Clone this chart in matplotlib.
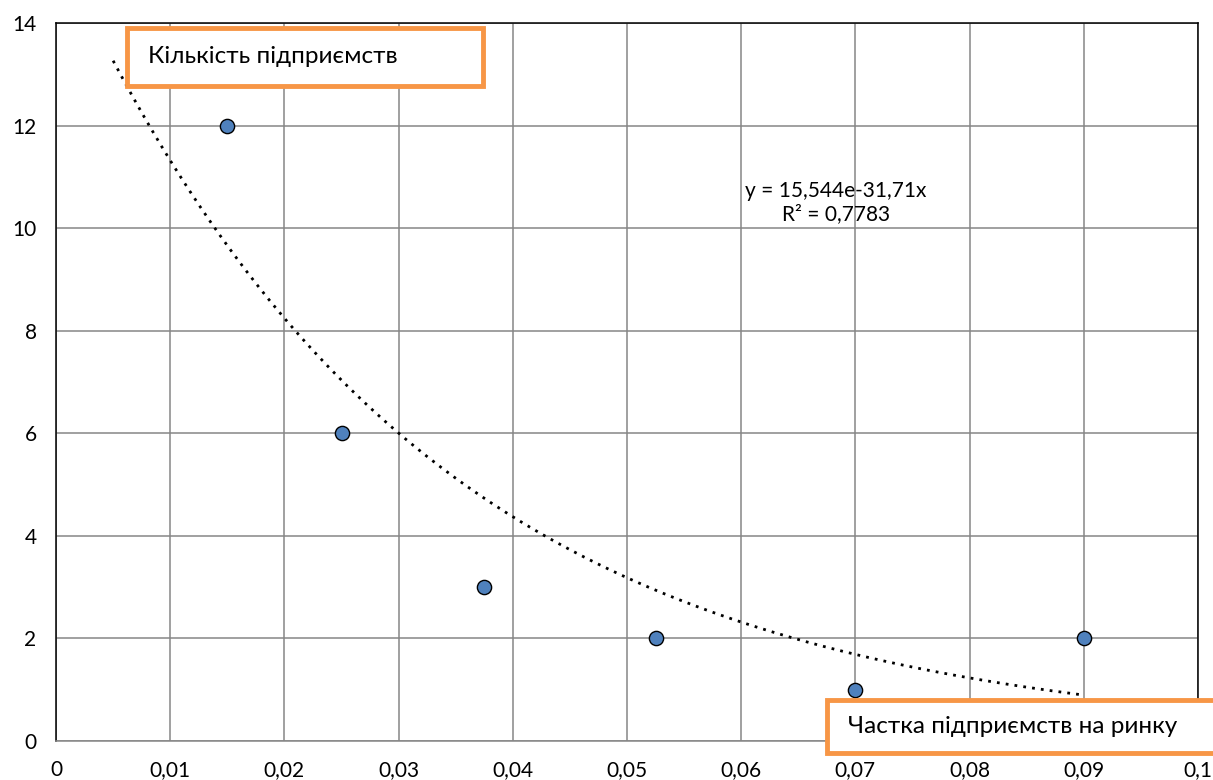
import matplotlib
matplotlib.use("Agg")
import matplotlib.pyplot as plt
from matplotlib.patches import Rectangle
from matplotlib.ticker import FuncFormatter
import numpy as np

plt.rcParams['font.family'] = ['Lato', 'DejaVu Sans']

# дані
chastka = [0.015, 0.025, 0.0375, 0.0525, 0.07, 0.09]
kilkist = [12, 6, 3, 2, 1, 2]
a_coef = 15.544
b_coef = -31.71
r2 = 0.7783
x_ticks = [0, 0.01, 0.02, 0.03, 0.04, 0.05, 0.06, 0.07, 0.08, 0.09, 0.1]
y_ticks = [0, 2, 4, 6, 8, 10, 12, 14]

fig = plt.figure(figsize=(12.13, 7.8), dpi=100)
ax = fig.add_axes([0.0462, 0.05, 0.9414, 0.9205])

# лінія тренду
xt = np.linspace(0.005, 0.09, 300)
ax.plot(xt, a_coef * np.exp(b_coef * xt), color='black', linestyle=(0, (1, 2.2)),
        linewidth=2, zorder=3)

ax.scatter(chastka, kilkist, s=105, color='#4F81BD', edgecolor='black',
           linewidth=1, zorder=4, clip_on=False)

ax.set_xlim(0, 0.1)
ax.set_ylim(0, 14)
ax.set_xticks(x_ticks)
ax.set_yticks(y_ticks)
ax.xaxis.set_major_formatter(FuncFormatter(lambda v, p: ('%g' % round(v, 3)).replace('.', ',')))
ax.tick_params(length=0, labelsize=15, pad=14)
ax.tick_params(axis='y', pad=14)
ax.grid(True, color='#868686', linewidth=1.1)
ax.set_axisbelow(True)
for s in ax.spines.values():
    s.set_color('black')
    s.set_linewidth(1.1)
ax.spines['bottom'].set_color('#868686')

ax.text(0.0683, 10.5, 'y = 15,544e-31,71x\nR² = ' + ('%g' % r2).replace('.', ','),
        ha='center', va='center', fontsize=15, linespacing=1.2)

# підписи осей у рамках
fig.add_artist(Rectangle((0.1047, 0.8897), 0.2933, 0.0743, transform=fig.transFigure,
                         facecolor='white', edgecolor='#F79646', linewidth=3.5, zorder=5))
fig.text(0.122, 0.927, 'Кількість підприємств', fontsize=17.5, va='center', zorder=6)
fig.add_artist(Rectangle((0.682, 0.0346), 0.35, 0.068, transform=fig.transFigure,
                         facecolor='white', edgecolor='#F79646', linewidth=3.5, zorder=5,
                         clip_on=False))
fig.text(0.699, 0.068, 'Частка підприємств на ринку', fontsize=17.5, va='center', zorder=6)

fig.savefig('out.png', dpi=100)
